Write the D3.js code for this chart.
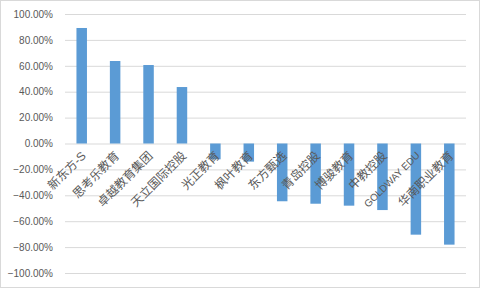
<!DOCTYPE html>
<html><head><meta charset="utf-8">
<script src="https://cdn.jsdelivr.net/npm/d3@7"></script>
<style>body{margin:0;background:#fff}svg{display:block}</style>
</head><body>
<script>
const categories = ["新东方-S","思考乐教育","卓越教育集团","天立国际控股","光正教育","枫叶教育","东方甄选","青岛控股","博骏教育","中教控股","GOLDWAY EDU","华南职业教育"];
const values = [0.892, 0.637, 0.606, 0.436, -0.122, -0.140, -0.446, -0.465, -0.480, -0.514, -0.704, -0.781];
const yTicks = [1, 0.8, 0.6, 0.4, 0.2, 0, -0.2, -0.4, -0.6, -0.8, -1];

const W = 480, H = 288;
const svg = d3.select("body").append("svg").attr("width", W).attr("height", H);
svg.append("rect").attr("x",0.5).attr("y",0.5).attr("width",W-1).attr("height",H-1)
  .attr("fill","#fff").attr("stroke","#d9d9d9");

const x = d3.scaleBand().domain(categories).range([65, 466]);
const y = d3.scaleLinear().domain([-1, 1]).range([273, 14]);

const yAxis = d3.axisLeft(y).tickValues(yTicks).tickSize(-(466-65)).tickPadding(12)
  .tickFormat(d => d3.format(".2f")(d*100) + "%");
const gy = svg.append("g").attr("transform","translate(65,0)").call(yAxis);
gy.select(".domain").remove();
gy.selectAll(".tick line").attr("stroke","#d9d9d9").attr("stroke-width",1);
gy.selectAll(".tick text").attr("fill","#595959").attr("font-family","'Liberation Sans', Arial, sans-serif").attr("font-size","10px");

const bw = 10.5;
svg.append("g").selectAll("rect").data(categories).join("rect")
  .attr("x", (d) => x(d) + x.bandwidth()/2 - bw/2)
  .attr("width", bw)
  .attr("y", (d,i) => Math.min(y(values[i]), y(0)))
  .attr("height", (d,i) => Math.abs(y(values[i]) - y(0)))
  .attr("fill", "#5b9bd5");

const xAxis = d3.axisBottom(x).tickSize(0).tickPadding(0);
const gx = svg.append("g").attr("transform", `translate(0,${y(0)})`).call(xAxis);
gx.select(".domain").remove();
gx.selectAll(".tick text")
  .attr("fill","#595959")
  .attr("font-family","'Liberation Sans', 'Noto Sans CJK SC', sans-serif")
  .attr("font-size", d => /^[\x00-\x7F]+$/.test(d) ? "10px" : "12px")
  .attr("text-anchor","end")
  .attr("dy","0.35em")
  .attr("transform","translate(2,10) rotate(-45)");
</script>
</body></html>
